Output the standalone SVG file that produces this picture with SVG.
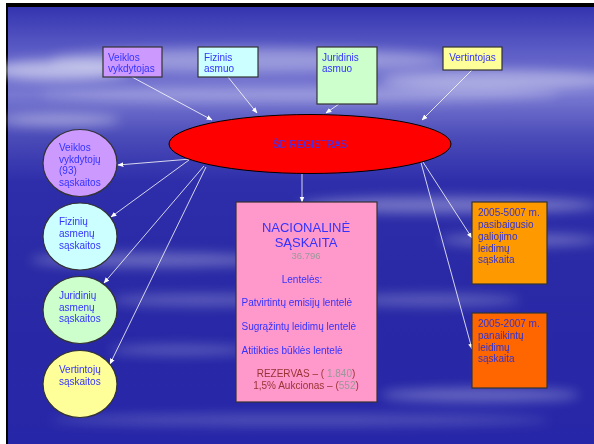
<svg xmlns="http://www.w3.org/2000/svg" width="594" height="444" viewBox="0 0 594 444">
<defs>
<linearGradient id="bg" x1="0" y1="0" x2="0" y2="1">
<stop offset="0" stop-color="#3434b0"/>
<stop offset="0.1" stop-color="#5c5cc6"/>
<stop offset="0.2" stop-color="#7878d2"/>
<stop offset="0.3" stop-color="#4a4ab8"/>
<stop offset="0.4" stop-color="#2e2eaa"/>
<stop offset="0.6" stop-color="#2a2aa6"/>
<stop offset="1" stop-color="#2626a8"/>
</linearGradient>
<filter id="blur" x="-50%" y="-50%" width="200%" height="200%"><feGaussianBlur stdDeviation="6"/></filter>
<marker id="ah" viewBox="0 0 10 10" refX="9" refY="5" markerWidth="6" markerHeight="6" orient="auto" markerUnits="userSpaceOnUse">
<path d="M0,1 L10,5 L0,9 z" fill="#ffffff"/>
</marker>
<style>
.t{font-family:"Liberation Sans",Arial,sans-serif;font-size:10px;fill:#3333ff}
.to{font-family:"Liberation Sans",Arial,sans-serif;font-size:10px;fill:#3333cc}
.box{stroke:#333333;stroke-width:1.2}
.conn{stroke:#ffffff;stroke-width:0.8;fill:none;marker-end:url(#ah)}
</style>
</defs>
<rect x="0" y="0" width="594" height="444" fill="#ffffff"/>
<rect x="6" y="3" width="588" height="441" fill="#000000"/>
<rect x="8" y="7" width="586" height="437" fill="url(#bg)"/>
<g filter="url(#blur)" fill="#ffffff">
<ellipse cx="60" cy="70" rx="70" ry="10" opacity="0.55"/>
<ellipse cx="250" cy="60" rx="200" ry="12" opacity="0.35"/>
<ellipse cx="500" cy="80" rx="120" ry="10" opacity="0.4"/>
<ellipse cx="300" cy="95" rx="260" ry="8" opacity="0.25"/>
<ellipse cx="60" cy="120" rx="60" ry="6" opacity="0.4"/>
<ellipse cx="450" cy="205" rx="150" ry="8" opacity="0.35"/>
<ellipse cx="520" cy="240" rx="80" ry="6" opacity="0.3"/>
<ellipse cx="150" cy="260" rx="120" ry="7" opacity="0.3"/>
<ellipse cx="200" cy="300" rx="90" ry="6" opacity="0.25"/>
<ellipse cx="430" cy="300" rx="90" ry="6" opacity="0.25"/>
<ellipse cx="480" cy="395" rx="100" ry="7" opacity="0.3"/>
<ellipse cx="180" cy="350" rx="70" ry="5" opacity="0.25"/>
<ellipse cx="300" cy="420" rx="250" ry="6" opacity="0.2"/>
</g>
<g id="connectors">
<line class="conn" x1="132" y1="77" x2="212" y2="120"/>
<line class="conn" x1="228" y1="77" x2="257" y2="113"/>
<line class="conn" x1="339" y1="104" x2="326" y2="113"/>
<line class="conn" x1="472" y1="70" x2="422" y2="120"/>
<line class="conn" x1="191" y1="159" x2="118" y2="165"/>
<line class="conn" x1="189" y1="160" x2="111" y2="217"/>
<line class="conn" x1="204" y1="166" x2="104" y2="283"/>
<line class="conn" x1="206" y1="167" x2="110" y2="364"/>
<line class="conn" x1="302" y1="174" x2="302" y2="202"/>
<line class="conn" x1="421" y1="159" x2="472" y2="238"/>
<line class="conn" x1="420" y1="159" x2="472" y2="349"/>
</g>
<g id="veiklos-vykdytojas">
<rect class="box" x="103" y="47" width="59" height="30" fill="#cc99ff"/>
<text class="t" x="108" y="61">Veiklos</text>
<text class="t" x="108" y="72">vykdytojas</text>
</g>
<g id="fizinis-asmuo">
<rect class="box" x="198" y="47" width="60" height="30" fill="#ccffff"/>
<text class="t" x="204" y="61">Fizinis</text>
<text class="t" x="204" y="72">asmuo</text>
</g>
<g id="juridinis-asmuo">
<rect class="box" x="317" y="47" width="60" height="57" fill="#ccffcc"/>
<text class="t" x="322" y="61">Juridinis</text>
<text class="t" x="322" y="72">asmuo</text>
</g>
<g id="vertintojas">
<rect class="box" x="443" y="47" width="59" height="23" fill="#ffff99"/>
<text class="t" x="472.5" y="61" text-anchor="middle">Vertintojas</text>
</g>
<g id="sd-registras">
<ellipse cx="310" cy="144" rx="141" ry="29.5" fill="#ff0000" stroke="#000000" stroke-width="1"/>
<text class="t" x="310" y="147.5" text-anchor="middle">ŠD REGISTRAS</text>
</g>
<g id="veiklos-saskaitos">
<ellipse class="box" cx="80" cy="163" rx="37" ry="33.5" fill="#cc99ff"/>
<text class="t" x="59" y="151">Veiklos</text>
<text class="t" x="59" y="163">vykdytojų</text>
<text class="t" x="59" y="174">(93)</text>
<text class="t" x="59" y="186">sąskaitos</text>
</g>
<g id="fiziniu-saskaitos">
<ellipse class="box" cx="80" cy="236.5" rx="37" ry="33.5" fill="#ccffff"/>
<text class="t" x="59" y="225">Fizinių</text>
<text class="t" x="59" y="237">asmenų</text>
<text class="t" x="59" y="248.5">sąskaitos</text>
</g>
<g id="juridiniu-saskaitos">
<ellipse class="box" cx="80" cy="310" rx="37" ry="33.5" fill="#ccffcc"/>
<text class="t" x="59" y="299">Juridinių</text>
<text class="t" x="59" y="310.5">asmenų</text>
<text class="t" x="59" y="322">sąskaitos</text>
</g>
<g id="vertintoju-saskaitos">
<ellipse class="box" cx="80" cy="384" rx="37" ry="33.5" fill="#ffff99"/>
<text class="t" x="59" y="373">Vertintojų</text>
<text class="t" x="59" y="384.5">sąskaitos</text>
</g>
<g id="nacionaline-saskaita">
<rect class="box" x="236" y="202" width="141" height="200" fill="#ff99cc"/>
<text class="t" x="306" y="231.5" text-anchor="middle" style="font-size:13px">NACIONALINĖ</text>
<text class="t" x="306" y="246.5" text-anchor="middle" style="font-size:13px">SĄSKAITA</text>
<text class="t" x="306" y="259" text-anchor="middle" style="fill:#999999;font-size:9.5px">36.796</text>
<text class="t" x="302" y="282.5" text-anchor="middle">Lentelės:</text>
<text class="t" x="241.5" y="306">Patvirtintų emisijų lentelė</text>
<text class="t" x="241.5" y="330">Sugrąžintų leidimų lentelė</text>
<text class="t" x="241.5" y="354">Atitikties būklės lentelė</text>
<text class="t" x="306" y="377" text-anchor="middle" style="fill:#993333">REZERVAS – ( <tspan fill="#999999">1.840</tspan>)</text>
<text class="t" x="306" y="389" text-anchor="middle" style="fill:#993333">1,5% Aukcionas – (<tspan fill="#999999">552</tspan>)</text>
</g>
<g id="pasibaigusio-saskaita">
<rect class="box" x="472" y="202" width="75" height="82" fill="#ff9900"/>
<text class="to" x="478" y="216">2005-5007 m.</text>
<text class="to" x="478" y="228">pasibaigusio</text>
<text class="to" x="478" y="240">galiojimo</text>
<text class="to" x="478" y="251.5">leidimų</text>
<text class="to" x="478" y="263">sąskaita</text>
</g>
<g id="panaikintu-saskaita">
<rect class="box" x="472" y="313" width="75" height="75" fill="#ff6600"/>
<text class="to" x="478" y="327">2005-2007 m.</text>
<text class="to" x="478" y="339">panaikintų</text>
<text class="to" x="478" y="350.5">leidimų</text>
<text class="to" x="478" y="362">sąskaita</text>
</g>
</svg>
